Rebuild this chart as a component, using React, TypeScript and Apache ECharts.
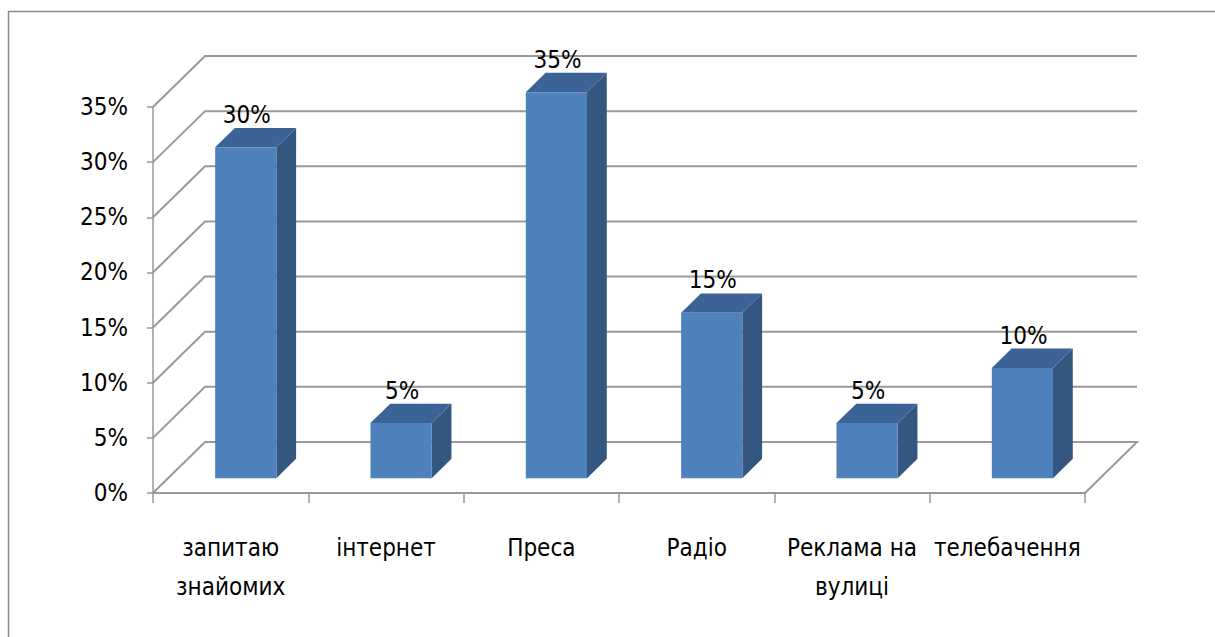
import React, { useEffect, useRef } from "react";
import * as echarts from "echarts";

const categories = [
  "запитаю знайомих",
  "інтернет",
  "Преса",
  "Радіо",
  "Реклама на вулиці",
  "телебачення",
];
const values = [0.3, 0.05, 0.35, 0.15, 0.05, 0.1];
const yTicks = [0, 0.05, 0.1, 0.15, 0.2, 0.25, 0.3, 0.35];

const FONT = '"DejaVu Sans Condensed", "Liberation Sans", sans-serif';
const FS = 24;
const DX = 52;
const DY = -51;
const T1 = 0.29;
const T2 = 0.67;
const GRID_COLOR = "#999999";

const wrapLabel = (s: string) => {
  if (s.length <= 11) return s;
  const k = s.lastIndexOf(" ");
  return k > 0 ? s.slice(0, k) + "\n" + s.slice(k + 1) : s;
};

export default function App() {
  const ref = useRef<HTMLDivElement>(null);
  useEffect(() => {
    const chart = echarts.init(ref.current!, null, { renderer: "svg" });
    const option: any = {
      animation: false,
      backgroundColor: "#ffffff",
      graphic: [
        {
          type: "rect",
          shape: { x: 8.5, y: 11.5, width: 1230, height: 660 },
          style: { fill: "none", stroke: "#8a8a8a", lineWidth: 1.5 },
          z: -10,
          silent: true,
        },
      ],
      grid: { left: 153, right: 130, top: 107, bottom: 144, outerBoundsMode: "none", containLabel: false },
      xAxis: {
        type: "category",
        data: categories,
        boundaryGap: true,
        axisLine: { show: true, lineStyle: { color: GRID_COLOR, width: 2 } },
        axisTick: { show: true, length: 10, interval: 0, lineStyle: { color: GRID_COLOR, width: 1.5 } },
        axisLabel: {
          interval: 0,
          margin: 35,
          lineHeight: 39,
          fontFamily: FONT,
          fontSize: FS,
          color: "#000",
          formatter: (v: string) => wrapLabel(v),
        },
        splitLine: { show: false },
      },
      yAxis: {
        type: "value",
        min: 0,
        max: 0.35,
        interval: 0.05,
        axisLine: { show: true, lineStyle: { color: GRID_COLOR, width: 1.5 } },
        axisTick: { show: true, length: 6, lineStyle: { color: GRID_COLOR, width: 1.5 } },
        axisLabel: {
          margin: 25,
          fontFamily: FONT,
          fontSize: FS,
          color: "#000",
          formatter: (v: number) => Math.round(v * 100) + "%",
        },
        splitLine: { show: false },
      },
      series: [
        {
          type: "custom",
          z: 1,
          silent: true,
          data: yTicks.map((v) => [0, v]),
          encode: { x: 0, y: 1 },
          renderItem: (params: any, api: any) => {
            const cs = params.coordSys;
            const v = api.value(1);
            const y = api.coord([0, v])[1];
            const pts: number[][] = [
              [cs.x, y],
              [cs.x + DX, y + DY],
              [cs.x + cs.width + DX, y + DY],
            ];
            if (v === 0) pts.push([cs.x + cs.width, y]);
            return {
              type: "polyline",
              shape: { points: pts },
              style: { stroke: GRID_COLOR, lineWidth: 2, fill: "none" },
            };
          },
        },
        {
          type: "custom",
          z: 2,
          silent: true,
          data: values.map((v, i) => [i, v]),
          encode: { x: 0, y: 1 },
          renderItem: (params: any, api: any) => {
            const i = api.value(0);
            const v = api.value(1);
            const [cx, y0] = api.coord([i, 0]);
            const yv = api.coord([i, v])[1];
            const bw = api.size([1, 0])[0] * 0.394;
            const fx = cx + T1 * DX;
            const fy0 = y0 + T1 * DY;
            const fyT = yv + T1 * DY;
            const ddx = (T2 - T1) * DX;
            const ddy = (T2 - T1) * DY;
            const l = fx - bw / 2;
            const r = fx + bw / 2;
            return {
              type: "group",
              children: [
                {
                  type: "polygon",
                  shape: { points: [[r, fyT], [r + ddx, fyT + ddy], [r + ddx, fy0 + ddy], [r, fy0]] },
                  style: { fill: "#34577f" },
                },
                {
                  type: "polygon",
                  shape: { points: [[l, fyT], [r, fyT], [r + ddx, fyT + ddy], [l + ddx, fyT + ddy]] },
                  style: { fill: "#3c6395" },
                },
                {
                  type: "rect",
                  shape: { x: l, y: fyT, width: bw, height: fy0 - fyT },
                  style: { fill: "#4f81bd" },
                },
                {
                  type: "text",
                  x: fx + 1,
                  y: fyT + ddy - 1,
                  style: {
                    text: Math.round(v * 100) + "%",
                    fill: "#000",
                    fontFamily: FONT,
                    fontSize: FS,
                    align: "center",
                    verticalAlign: "bottom",
                  },
                },
              ],
            };
          },
        },
      ],
    };
    chart.setOption(option);
    return () => chart.dispose();
  }, []);
  return (
    <div
      ref={ref}
      style={{ position: "fixed", left: 0, top: 0, width: 1215, height: 637 }}
    />
  );
}
